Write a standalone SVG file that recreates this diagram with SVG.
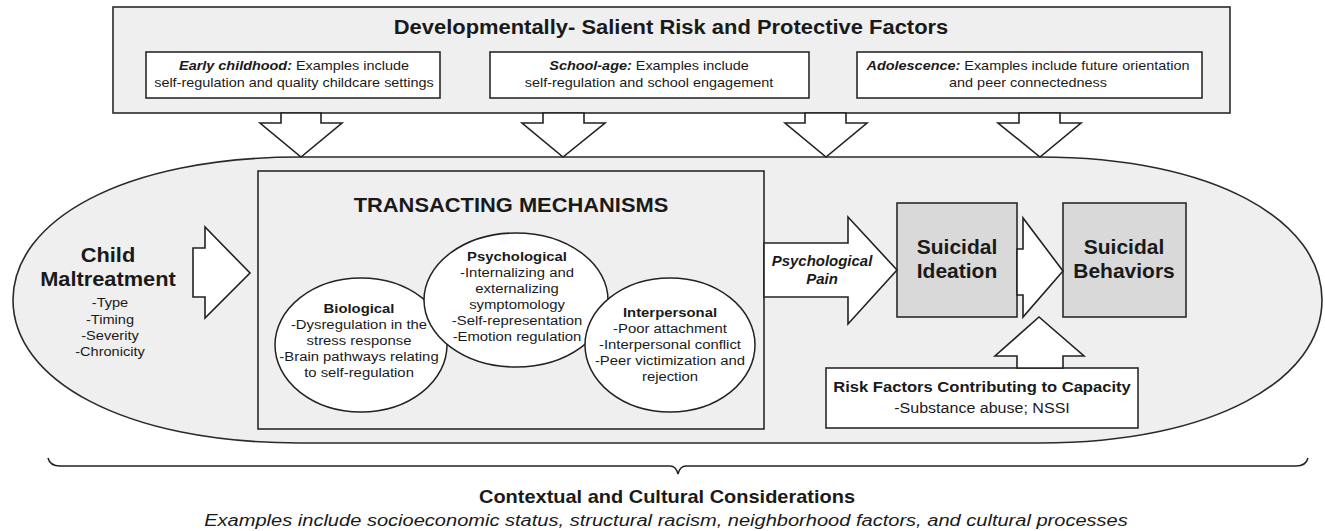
<svg xmlns="http://www.w3.org/2000/svg" width="1325" height="531" viewBox="0 0 1325 531">
  <style>
    .panel { fill: #efefef; stroke: #2a2a2a; stroke-width: 1.6; }
    .box { fill: #ffffff; stroke: #2a2a2a; stroke-width: 1.6; }
    .dark { fill: #d9d9d9; stroke: #2a2a2a; stroke-width: 1.6; }
    .blob { fill: #ffffff; stroke: #222222; stroke-width: 1.5; }
    .arrow { fill: #ffffff; stroke: #222222; stroke-width: 1.6; stroke-linejoin: miter; }
    .brace { fill: none; stroke: #222222; stroke-width: 1.5; }
    text { font-family: "Liberation Sans", Arial, sans-serif; fill: #1a1a1a; text-anchor: middle; }
    .h1 { font-size: 20px; font-weight: bold; }
    .h2 { font-size: 20px; font-weight: bold; }
    .sub { font-size: 13px; }
    .sm { font-size: 13.5px; }
    .smb { font-size: 13.5px; font-weight: bold; }
    .bi { font-weight: bold; font-style: italic; }
    .pain { font-size: 14px; font-weight: bold; font-style: italic; }
    .cap { font-size: 15.5px; font-weight: bold; }
    .capr { font-size: 15px; }
    .ctx { font-size: 18px; font-weight: bold; }
    .ctxi { font-size: 17px; font-style: italic; }
  </style>

  <!-- outer context region (flat top/bottom with rounded ends) -->
  <g id="context-region">
    <path class="panel" d="M300,157 L1040,157 C1215,157 1322,221 1322,300 C1322,379 1215,443 1040,443 L300,443 C122,443 13,379 13,300 C13,221 122,157 300,157 Z"/>
  </g>

  <!-- developmental factors panel -->
  <g id="dev-factors">
    <rect class="panel" x="113" y="7" width="1117" height="106"/>
    <g transform="translate(671,0) scale(1.097,1)">
      <text class="h1" x="0" y="34">Developmentally- Salient Risk and Protective Factors</text>
    </g>
  </g>

  <g id="early-childhood">
    <rect class="box" x="146" y="52" width="294" height="46"/>
    <g transform="translate(294,0) scale(1.11,1)">
      <text class="sub" x="0" y="70"><tspan class="bi">Early childhood:</tspan> Examples include</text>
      <text class="sub" x="0" y="87">self-regulation and quality childcare settings</text>
    </g>
  </g>

  <g id="school-age">
    <rect class="box" x="490" y="52" width="319" height="46"/>
    <g transform="translate(649,0) scale(1.11,1)">
      <text class="sub" x="0" y="70"><tspan class="bi">School-age:</tspan> Examples include</text>
      <text class="sub" x="0" y="87">self-regulation and school engagement</text>
    </g>
  </g>

  <g id="adolescence">
    <rect class="box" x="857" y="52" width="345" height="46"/>
    <g transform="translate(1028,0) scale(1.11,1)">
      <text class="sub" x="0" y="70"><tspan class="bi">Adolescence:</tspan> Examples include future orientation</text>
      <text class="sub" x="0" y="87">and peer connectedness</text>
    </g>
  </g>

  <!-- transacting mechanisms -->
  <g id="mechanisms">
    <rect class="panel" x="258" y="171" width="506" height="258"/>
    <g transform="translate(511,0) scale(1.094,1)">
      <text class="h2" x="0" y="212">TRANSACTING MECHANISMS</text>
    </g>
  </g>

  <g id="biological">
    <ellipse class="blob" cx="361" cy="345" rx="86" ry="67"/>
    <g transform="translate(359,0) scale(1.1,1)">
      <text class="smb" x="0" y="313">Biological</text>
      <text class="sm" x="0" y="329">-Dysregulation in the</text>
      <text class="sm" x="0" y="345">stress response</text>
      <text class="sm" x="0" y="361">-Brain pathways relating</text>
      <text class="sm" x="0" y="377">to self-regulation</text>
    </g>
  </g>

  <g id="psychological">
    <ellipse class="blob" cx="516" cy="300" rx="92" ry="67"/>
    <g transform="translate(517,0) scale(1.1,1)">
      <text class="smb" x="0" y="261">Psychological</text>
      <text class="sm" x="0" y="277">-Internalizing  and</text>
      <text class="sm" x="0" y="293">externalizing</text>
      <text class="sm" x="0" y="309">symptomology</text>
      <text class="sm" x="0" y="325">-Self-representation</text>
      <text class="sm" x="0" y="341">-Emotion regulation</text>
    </g>
  </g>

  <g id="interpersonal">
    <ellipse class="blob" cx="670" cy="345" rx="85" ry="67"/>
    <g transform="translate(670,0) scale(1.1,1)">
      <text class="smb" x="0" y="317">Interpersonal</text>
      <text class="sm" x="0" y="333">-Poor attachment</text>
      <text class="sm" x="0" y="349">-Interpersonal conflict</text>
      <text class="sm" x="0" y="365">-Peer victimization and</text>
      <text class="sm" x="0" y="381">rejection</text>
    </g>
  </g>

  <!-- child maltreatment -->
  <g id="child-maltreatment">
    <g transform="translate(108,0) scale(1.09,1)">
      <text class="h2" x="0" y="262">Child</text>
      <text class="h2" x="0" y="286">Maltreatment</text>
    </g>
    <g transform="translate(110,0) scale(1.08,1)">
      <text class="sm" x="0" y="307">-Type</text>
      <text class="sm" x="0" y="324">-Timing</text>
      <text class="sm" x="0" y="340">-Severity</text>
      <text class="sm" x="0" y="356">-Chronicity</text>
    </g>
  </g>

  <!-- outcomes -->
  <g id="suicidal-ideation">
    <rect class="dark" x="897" y="203" width="120" height="114"/>
    <g transform="translate(957,0) scale(1.05,1)">
      <text class="h2" x="0" y="254">Suicidal</text>
      <text class="h2" x="0" y="278">Ideation</text>
    </g>
  </g>

  <g id="suicidal-behaviors">
    <rect class="dark" x="1063" y="203" width="123" height="114"/>
    <g transform="translate(1124,0) scale(1.05,1)">
      <text class="h2" x="0" y="254">Suicidal</text>
      <text class="h2" x="0" y="278">Behaviors</text>
    </g>
  </g>

  <g id="capacity">
    <rect class="box" x="826" y="368" width="312" height="60"/>
    <g transform="translate(982,0) scale(1.07,1)">
      <text class="cap" x="0" y="392">Risk Factors Contributing to Capacity</text>
      <text class="capr" x="0" y="413">-Substance abuse; NSSI</text>
    </g>
  </g>

  <!-- block-arrow connectors -->
  <g id="connectors">
    <polygon class="arrow" points="281,113 321,113 321,123 342,123 301,157 260,123 281,123"/>
    <polygon class="arrow" points="543,113 584,113 584,123 605,123 563,157 522,123 543,123"/>
    <polygon class="arrow" points="805,113 846,113 846,123 867,123 826,157 785,123 805,123"/>
    <polygon class="arrow" points="1019,113 1060,113 1060,123 1081,123 1040,157 998,123 1019,123"/>
    <polygon class="arrow" points="193,248 205,248 205,227 250,273 205,318 205,297 193,297"/>
    <polygon class="arrow" points="764,243 848,243 848,217 897,270 848,324 848,297 764,297"/>
    <polygon class="arrow" points="1017,249 1023,249 1023,218 1063,271 1023,317 1023,295 1017,295"/>
    <polygon class="arrow" points="1017,368 1017,356 995,356 1039,317 1084,356 1063,356 1063,368"/>
    <g transform="translate(822,0) scale(1.07,1)">
      <text class="pain" x="0" y="266">Psychological</text>
      <text class="pain" x="0" y="284">Pain</text>
    </g>
  </g>

  <!-- contextual brace and caption -->
  <g id="context-caption">
    <path class="brace" d="M48,458 Q50,466 60,466 L670,466 Q676,466 678,474 Q680,466 686,466 L1296,466 Q1306,466 1308,458"/>
    <g transform="translate(667,0) scale(1.11,1)">
      <text class="ctx" x="0" y="503">Contextual and Cultural Considerations</text>
    </g>
    <g transform="translate(666,0) scale(1.18,1)">
      <text class="ctxi" x="0" y="526">Examples include socioeconomic status, structural racism, neighborhood factors, and cultural processes</text>
    </g>
  </g>
</svg>
